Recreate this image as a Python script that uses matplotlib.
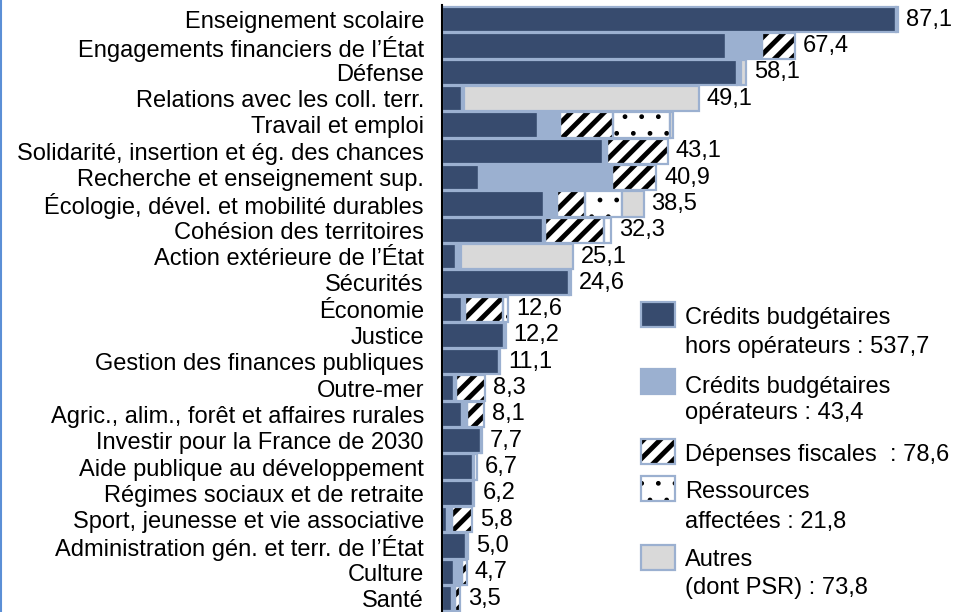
import numpy as np
import matplotlib as mpl
import matplotlib.pyplot as plt
from matplotlib.patches import Rectangle
from matplotlib.lines import Line2D

plt.rcParams['font.family'] = ['Liberation Sans', 'DejaVu Sans']

# Missions, top to bottom
missions = [
    "Enseignement scolaire",
    "Engagements financiers de l\u2019\u00c9tat",
    "D\u00e9fense",
    "Relations avec les coll. terr.",
    "Travail et emploi",
    "Solidarit\u00e9, insertion et \u00e9g. des chances",
    "Recherche et enseignement sup.",
    "\u00c9cologie, d\u00e9vel. et mobilit\u00e9 durables",
    "Coh\u00e9sion des territoires",
    "Action ext\u00e9rieure de l\u2019\u00c9tat",
    "S\u00e9curit\u00e9s",
    "\u00c9conomie",
    "Justice",
    "Gestion des finances publiques",
    "Outre-mer",
    "Agric., alim., for\u00eat et affaires rurales",
    "Investir pour la France de 2030",
    "Aide publique au d\u00e9veloppement",
    "R\u00e9gimes sociaux et de retraite",
    "Sport, jeunesse et vie associative",
    "Administration g\u00e9n. et terr. de l\u2019\u00c9tat",
    "Culture",
    "Sant\u00e9",
]

# Md€ by component
hors_operateurs = [86.6, 54.3, 56.4, 3.8, 18.3, 30.7, 7.0, 19.5, 19.2, 2.6, 24.2, 3.8,
                   11.9, 10.9, 2.3, 3.9, 7.5, 5.9, 6.0, 0.9, 4.6, 2.3, 1.9]
operateurs = [0.5, 6.8, 0.6, 0.4, 4.3, 0.8, 25.5, 2.5, 0.4, 1.0, 0.4, 0.5,
              0.3, 0.2, 0.4, 0.8, 0.2, 0.3, 0.2, 1.0, 0.4, 1.6, 0.6]
depenses_fiscales = [0, 6.3, 0, 0, 10.0, 11.6, 8.4, 5.3, 11.3, 0, 0, 7.3,
                     0, 0, 5.6, 3.4, 0, 0, 0, 3.9, 0, 0.8, 1.0]
ressources_affectees = [0, 0, 0, 0, 10.9, 0, 0, 7.0, 1.4, 0, 0, 1.0,
                        0, 0, 0, 0, 0, 0.5, 0, 0, 0, 0, 0]
autres = [0, 0, 1.1, 44.9, 0.7, 0, 0, 4.2, 0, 21.5, 0, 0,
          0, 0, 0, 0, 0, 0, 0, 0, 0, 0, 0]
show_total = [True] * len(missions)
show_total[4] = False  # no total printed for Travail et emploi

legend_labels = [
    "Cr\u00e9dits budg\u00e9taires\nhors op\u00e9rateurs : 537,7",
    "Cr\u00e9dits budg\u00e9taires\nop\u00e9rateurs : 43,4",
    "D\u00e9penses fiscales  : 78,6",
    "Ressources\naffect\u00e9es : 21,8",
    "Autres\n(dont PSR) : 73,8",
]

DARK = '#374b6e'
LIGHT = '#9bb0d0'
GREY = '#d9d9d9'
EDGE = '#9bb0d0'
FS = 17

series = [
    (hors_operateurs, DARK, None),
    (operateurs, LIGHT, None),
    (depenses_fiscales, 'white', '//'),
    (ressources_affectees, 'white', '.'),
    (autres, GREY, None),
]
HATCH_LW = {'//': 3.5, '.': 1.0}


def hatched(draw, hatch):
    # hatch linewidth is picked up when the patch is created
    with mpl.rc_context({'hatch.linewidth': HATCH_LW[hatch]}):
        return draw()


W, H = 961, 612
fig = plt.figure(figsize=(W / 100, H / 100), dpi=100)
ax = fig.add_axes([442 / W, 0, 519 / W, 607 / H])

y = np.arange(len(missions))
left = np.zeros(len(missions))
bh = 0.96
for vals, face, hatch in series:
    vals = np.array(vals, dtype=float)
    m = vals > 0
    if hatch:
        hatched(lambda: ax.barh(y[m], vals[m], left=left[m], height=bh, color=face,
                                edgecolor='black', hatch=hatch, linewidth=0, zorder=2),
                hatch)
        ax.barh(y[m], vals[m], left=left[m], height=bh, fill=False,
                edgecolor=EDGE, linewidth=1.6, zorder=3)
    else:
        ax.barh(y[m], vals[m], left=left[m], height=bh, color=face,
                edgecolor=EDGE, linewidth=1.6, zorder=3)
    left += vals

for yi, tot, show in zip(y, left, show_total):
    if show:
        ax.text(tot + 1.5, yi, f"{tot:.1f}".replace('.', ','), va='center',
                ha='left', fontsize=FS, color='black')

ax.set_xlim(0, 99.1)
ax.set_ylim(22.51, -0.56)
ax.set_yticks(y)
ax.set_yticklabels(missions, fontsize=FS)
ax.tick_params(axis='y', length=0, pad=13)
ax.set_xticks([])
for s in ['top', 'right', 'bottom']:
    ax.spines[s].set_visible(False)
ax.spines['left'].set_color('black')
ax.spines['left'].set_linewidth(1.5)
ax.spines['left'].set_zorder(4)

# Legend drawn by hand in pixel positions
box_tops = [302, 369, 439, 476, 545]
line_y = [[318, 347], [387, 413], [455], [492, 522], [560, 588]]
leg_faces = [DARK, LIGHT, 'white', 'white', GREY]
leg_hatch = [None, None, '//', '.', None]
for top, ys, lab, face, hatch in zip(box_tops, line_y, legend_labels, leg_faces, leg_hatch):
    x0, w, h = 641 / W, 34 / W, 25 / H
    y0 = 1 - (top + 25) / H
    if hatch:
        hatched(lambda: fig.patches.append(
            Rectangle((x0, y0), w, h, transform=fig.transFigure, facecolor=face,
                      edgecolor='black', hatch=hatch, linewidth=0)), hatch)
        fig.patches.append(Rectangle((x0, y0), w, h, transform=fig.transFigure,
                                     fill=False, edgecolor=EDGE, linewidth=1.6))
    else:
        fig.patches.append(Rectangle((x0, y0), w, h, transform=fig.transFigure,
                                     facecolor=face, edgecolor=EDGE, linewidth=1.6))
    for line, ly in zip(lab.split('\n'), ys):
        fig.text(685 / W, 1 - ly / H, line, ha='left', va='center', fontsize=FS)

# thin frame line on the left edge
fig.add_artist(Line2D([1 / W, 1 / W], [0, 1], transform=fig.transFigure,
                      color='#5b8fd6', linewidth=1.5))

fig.savefig('out.png', dpi=100)
